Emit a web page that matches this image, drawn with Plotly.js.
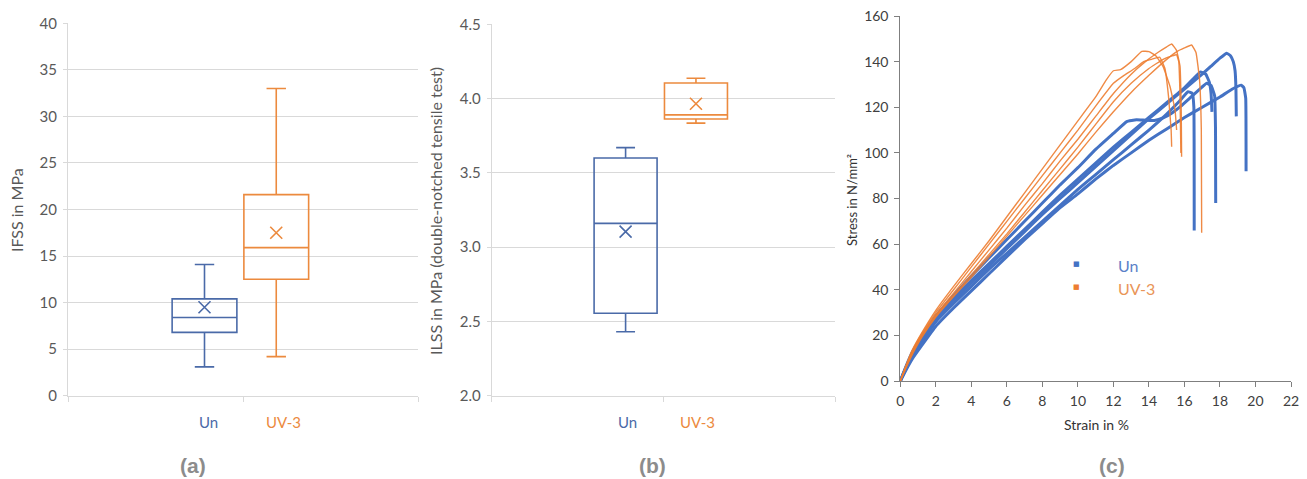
<!DOCTYPE html>
<html>
<head>
<meta charset="utf-8">
<script src="https://cdn.plot.ly/plotly-3.0.1.min.js"></script>
<style>
  html, body { margin: 0; padding: 0; background: #ffffff; }
  #chart { width: 1307px; height: 479px; }
</style>
</head>
<body>
<div id="chart"></div>
<script>
// ---------------- data ----------------
const categories = ['Un', 'UV-3'];

// (a) IFSS in MPa
const ifssLower  = [3.1, 4.2];
const ifssQ1     = [6.8, 12.5];
const ifssMedian = [8.4, 15.9];
const ifssQ3     = [10.4, 21.6];
const ifssUpper  = [14.1, 33.0];
const ifssMean   = [9.5, 17.5];

// (b) ILSS in MPa (double-notched tensile test)
const ilssLower  = [2.43, 3.835];
const ilssQ1     = [2.555, 3.863];
const ilssMedian = [3.16, 3.89];
const ilssQ3     = [3.60, 4.105];
const ilssUpper  = [3.67, 4.137];
const ilssMean   = [3.104, 3.965];

// (c) stress-strain curves, Un specimens
const unStrain1 = [0,0.3,0.7,1.2,2,3,4,5,6,7,8,9,10,11,12,12.75,13.3,13.8,14.3,14.8,15.3,15.8,16.3,16.8,17.25,17.5,17.7,17.75,17.76];
const unStress1 = [0,6,13,19,28.5,37.5,46,54,62,70,78,86,93.5,101.5,108.5,113.7,114.5,114.3,114.2,115.3,117.5,120.5,124,127.5,130.5,129.5,125,110,78];
const unStrain2 = [0,0.3,0.7,1.2,2,3,4,5,6,7,8,9,10,11,12,13,14,15,16,16.5,16.9,17.2,17.4,17.5,17.55];
const unStress2 = [0,5.5,12,18.5,27.5,36,44,51.5,59,66.5,74,81.5,88.5,95.5,102.5,109,115.5,122,128.5,132.5,135.5,134.5,131,126,118];
const unStrain3 = [0,0.3,0.7,1.2,2,3,4,5,6,7,8,9,10,11,12,13,14,15,15.7,16.2,16.45,16.53,16.55];
const unStress3 = [0,5,11,17,26,34,41.5,49,56,63,70,77,84,90.5,97,103.5,110,117,122.5,126.8,126,120,66];
const unStrain4 = [0,0.3,0.7,1.2,2,3,4,5,6,7,8,9,10,11,12,13,14,15,16,17,17.5,18,18.38,18.6,18.75,18.85,18.9,18.92];
const unStress4 = [0,5.5,12,18,27,35.5,43,50.5,58,65.5,73,80,87,94,101,108,115,121.5,128,134.5,138,141.5,143.7,142.5,140,136,128,116];
const unStrain5 = [0,0.3,0.7,1.2,2,3,4,5,6,7,8,9,10,11,12,13,14,15,16,17,18,18.7,19.2,19.35,19.45,19.47];
const unStress5 = [0,4.5,10,15.5,24,32,39.5,47,54.5,62,69,76,82,88.5,94.5,100,105.5,110.5,115.5,120,124.5,128,129.7,128.5,124,92];

// (c) stress-strain curves, UV-3 specimens
const uvStrain1 = [0,0.3,0.7,1.2,2,3,4,5,6,7,8,9,10,11,11.6,12,12.4,13,13.6,14.0,14.4,14.8,15.19,15.47,15.56];
const uvStress1 = [0,6.5,14,21,31,41.5,51.5,61.5,72,82.5,93,103.5,114,124.5,132,136,136.5,140,144.5,144.4,142.5,137.8,129,118.8,110];
const uvStrain2 = [0,0.3,0.7,1.2,2,3,4,5,6,7,8,9,10,11,12,12.6,13.2,13.7,14.15,14.6,14.9,15.1,15.25,15.28];
const uvStress2 = [0,6,13.5,20.5,30,40,50,60,70,80,90,100,110,120.5,130.5,134,137,140,141,142,137,125,110,102.7];
const uvStrain3 = [0,0.3,0.7,1.2,2,3,4,5,6,7,8,9,10,11,12,13,13.8,14.5,15.0,15.28,15.55,15.75,15.82,15.84];
const uvStress3 = [0,6,13,20,29,38.5,48,57.5,67,77,86.5,96.5,106,116,126,134.5,140,144,146.5,147.7,145,138,118,98.3];
const uvStrain4 = [0,0.3,0.7,1.2,2,3,4,5,6,7,8,9,10,11,12,13,14,14.8,15.3,15.56,15.68,15.75,15.8];
const uvStress4 = [0,5.5,12.5,19.5,28.5,37.5,46.5,55.5,64.5,74,83.5,93,102.5,112.5,122.4,130.5,137,141,142.5,143,140,125,100];
const uvStrain5 = [0,0.3,0.7,1.2,2,3,4,5,6,7,8,9,10,11,12,13,14,15,15.6,16.0,16.4,16.65,16.85,16.95,16.97];
const uvStress5 = [0,5.5,12,19,28,37,45.5,54.5,63.5,72.5,81.5,90.5,99.5,109,118,126.5,134,141,144.5,146,147.3,144,132,110,65];

// ---------------- styling / layout ----------------
const W = 1307, H = 479;
const px = v => v / W;
const py = v => 1 - v / H;

const boxBlue = '#4a6aa8', boxOrange = '#ec8a3e';
const lineBlue = '#4472C4', lineOrange = '#ED7D31';
const boxPos = [0.78, 1.19];
const boxColors = [boxBlue, boxOrange];
const FONT = 'Lato, "Open Sans", sans-serif';

const traces = [];

function addBoxes(xa, ya, lo, q1, med, q3, up, mean, widthU) {
  categories.forEach((c, i) => {
    traces.push({
      type: 'box', name: c, x: [boxPos[i]],
      lowerfence: [lo[i]], q1: [q1[i]], median: [med[i]], q3: [q3[i]], upperfence: [up[i]],
      width: widthU, whiskerwidth: 0.3, boxpoints: false,
      line: { color: boxColors[i], width: 1.6 },
      fillcolor: 'rgba(0,0,0,0)', showlegend: false, hoverinfo: 'skip',
      xaxis: xa, yaxis: ya
    });
    traces.push({
      type: 'scatter', mode: 'markers', x: [boxPos[i]], y: [mean[i]],
      marker: { symbol: 'x-thin-open', size: 12, color: boxColors[i], line: { color: boxColors[i], width: 1.6 } },
      showlegend: false, hoverinfo: 'skip', xaxis: xa, yaxis: ya
    });
  });
}
addBoxes('x', 'y', ifssLower, ifssQ1, ifssMedian, ifssQ3, ifssUpper, ifssMean, 0.37);
addBoxes('x2', 'y2', ilssLower, ilssQ1, ilssMedian, ilssQ3, ilssUpper, ilssMean, 0.367);

const unCurves = [[unStrain1, unStress1], [unStrain2, unStress2], [unStrain3, unStress3], [unStrain4, unStress4], [unStrain5, unStress5]];
const uvCurves = [[uvStrain1, uvStress1], [uvStrain2, uvStress2], [uvStrain3, uvStress3], [uvStrain4, uvStress4], [uvStrain5, uvStress5]];
unCurves.forEach(([sx, sy]) => traces.push({
  type: 'scatter', mode: 'lines', x: sx, y: sy, line: { color: lineBlue, width: 3, shape: 'spline', smoothing: 0.3 },
  showlegend: false, hoverinfo: 'skip', xaxis: 'x3', yaxis: 'y3'
}));
uvCurves.forEach(([sx, sy]) => traces.push({
  type: 'scatter', mode: 'lines', x: sx, y: sy, line: { color: lineOrange, width: 1.4, shape: 'spline', smoothing: 0.3 },
  opacity: 0.9, showlegend: false, hoverinfo: 'skip', xaxis: 'x3', yaxis: 'y3'
}));

const grid = '#d9d9d9';
const tickFont = { family: FONT, size: 15, color: '#595959' };
const boxY = [py(395.7), py(23.3)];

const catXAxis = dom => ({
  domain: dom, range: [0, 2], tickvals: [0, 1, 2], showticklabels: false,
  ticks: 'outside', ticklen: 5, tickcolor: grid, showline: true, linecolor: grid,
  linewidth: 1, showgrid: false, zeroline: false, fixedrange: true
});

const layout = {
  width: W, height: H,
  margin: { l: 0, r: 0, t: 0, b: 0, autoexpand: false },
  paper_bgcolor: '#ffffff', plot_bgcolor: '#ffffff',
  showlegend: false,
  font: { family: FONT },
  xaxis: Object.assign(catXAxis([px(68), px(418)]), { anchor: 'y' }),
  yaxis: {
    domain: boxY, anchor: 'x', range: [0, 40], dtick: 5,
    showgrid: true, gridcolor: grid, gridwidth: 1, zeroline: false,
    showline: true, linecolor: grid, ticks: 'outside', ticklen: 4, tickcolor: grid,
    tickfont: tickFont, ticklabelstandoff: 3
  },
  xaxis2: Object.assign(catXAxis([px(491.7), px(835)]), { anchor: 'y2' }),
  yaxis2: {
    domain: [py(395.7), py(24.3)], anchor: 'x2', range: [2, 4.5], dtick: 0.5, tickformat: '.1f',
    showgrid: true, gridcolor: grid, gridwidth: 1, zeroline: false,
    showline: true, linecolor: grid, ticks: 'outside', ticklen: 4, tickcolor: grid,
    tickfont: tickFont, ticklabelstandoff: 3
  },
  xaxis3: {
    domain: [px(900.3), px(1291)], anchor: 'y3', range: [0, 22], dtick: 2,
    showgrid: false, zeroline: false, showline: true, linecolor: '#7f7f7f', linewidth: 1,
    ticks: 'outside', ticklen: 5, tickcolor: '#7f7f7f',
    tickfont: { family: FONT, size: 14, color: '#404040' }, ticklabelstandoff: 2
  },
  yaxis3: {
    domain: [py(381), py(16)], anchor: 'x3', range: [0, 160], dtick: 20,
    showgrid: false, zeroline: false, showline: true, linecolor: '#7f7f7f', linewidth: 1,
    ticks: 'outside', ticklen: 5, tickcolor: '#7f7f7f',
    tickfont: { family: FONT, size: 14, color: '#404040' }, ticklabelstandoff: 3
  },
  annotations: [
    // axis titles
    { text: 'IFSS in MPa', xref: 'paper', yref: 'paper', x: px(16), y: py(210), textangle: -90,
      showarrow: false, xanchor: 'center', yanchor: 'middle', font: { family: FONT, size: 16, color: '#595959' } },
    { text: 'ILSS in MPa (double-notched tensile test)', xref: 'paper', yref: 'paper', x: px(435), y: py(211), textangle: -90,
      showarrow: false, xanchor: 'center', yanchor: 'middle', font: { family: FONT, size: 16, color: '#595959' } },
    { text: 'Stress in N/mm²', xref: 'paper', yref: 'paper', x: px(852), y: py(200), textangle: -90,
      showarrow: false, xanchor: 'center', yanchor: 'middle', font: { family: FONT, size: 13, color: '#333333' } },
    { text: 'Strain in %', xref: 'paper', yref: 'paper', x: px(1096), y: py(424),
      showarrow: false, xanchor: 'center', yanchor: 'middle', font: { family: FONT, size: 14, color: '#333333' } },
    // category labels
    { text: categories[0], xref: 'paper', yref: 'paper', x: px(208), y: py(422), showarrow: false,
      xanchor: 'center', yanchor: 'middle', font: { family: FONT, size: 15, color: boxBlue } },
    { text: categories[1], xref: 'paper', yref: 'paper', x: px(283), y: py(422), showarrow: false,
      xanchor: 'center', yanchor: 'middle', font: { family: FONT, size: 15, color: boxOrange } },
    { text: categories[0], xref: 'paper', yref: 'paper', x: px(627), y: py(422), showarrow: false,
      xanchor: 'center', yanchor: 'middle', font: { family: FONT, size: 15, color: boxBlue } },
    { text: categories[1], xref: 'paper', yref: 'paper', x: px(697), y: py(422), showarrow: false,
      xanchor: 'center', yanchor: 'middle', font: { family: FONT, size: 15, color: boxOrange } },
    // legend of (c)
    { text: '■', xref: 'paper', yref: 'paper', x: px(1076), y: py(264), showarrow: false,
      xanchor: 'center', yanchor: 'middle', font: { family: 'DejaVu Sans', size: 7, color: lineBlue } },
    { text: categories[0], xref: 'paper', yref: 'paper', x: px(1116), y: py(265), showarrow: false,
      xanchor: 'left', yanchor: 'middle', font: { family: FONT, size: 16, color: '#5a80c8' } },
    { text: '■', xref: 'paper', yref: 'paper', x: px(1076), y: py(287), showarrow: false,
      xanchor: 'center', yanchor: 'middle', font: { family: 'DejaVu Sans', size: 7, color: lineOrange } },
    { text: categories[1], xref: 'paper', yref: 'paper', x: px(1116), y: py(288), showarrow: false,
      xanchor: 'left', yanchor: 'middle', font: { family: FONT, size: 16, color: '#e99558' } },
    // panel labels
    { text: '<b>(a)</b>', xref: 'paper', yref: 'paper', x: px(193), y: py(465), showarrow: false,
      xanchor: 'center', yanchor: 'middle', font: { family: '"Liberation Sans", Arial, sans-serif', size: 21, color: '#8c8c8c' } },
    { text: '<b>(b)</b>', xref: 'paper', yref: 'paper', x: px(652), y: py(465), showarrow: false,
      xanchor: 'center', yanchor: 'middle', font: { family: '"Liberation Sans", Arial, sans-serif', size: 21, color: '#8c8c8c' } },
    { text: '<b>(c)</b>', xref: 'paper', yref: 'paper', x: px(1112), y: py(465), showarrow: false,
      xanchor: 'center', yanchor: 'middle', font: { family: '"Liberation Sans", Arial, sans-serif', size: 21, color: '#8c8c8c' } }
  ]
};

Plotly.newPlot('chart', traces, layout, { staticPlot: true, displayModeBar: false });
</script>
</body>
</html>
